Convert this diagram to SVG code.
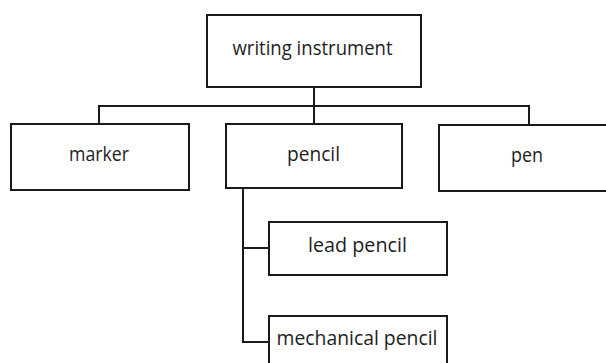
<svg xmlns="http://www.w3.org/2000/svg" width="606" height="363" viewBox="0 0 606 363">
<style>
.box{fill:#fff;stroke:#1a1a1a;stroke-width:2}
.lbl{font-family:"Open Sans","Noto Sans",sans-serif;font-size:20px;fill:#1e1e1e;text-anchor:middle}
.con{fill:none;stroke:#1a1a1a;stroke-width:2}
</style>
<rect width="606" height="363" fill="#fff"/>
<g id="connectors">
<path class="con" d="M314 87V124M99 124V106H529V125M243 188V342H269M243 248H269"/>
</g>
<g id="writing-instrument">
<rect class="box" x="207" y="15" width="214" height="72"/>
<text class="lbl" x="312.5" y="55" textLength="160" lengthAdjust="spacingAndGlyphs">writing instrument</text>
</g>
<g id="marker">
<rect class="box" x="11" y="124" width="178" height="66"/>
<text class="lbl" x="99" y="160.5" textLength="60" lengthAdjust="spacingAndGlyphs">marker</text>
</g>
<g id="pencil">
<rect class="box" x="226" y="124" width="176" height="64"/>
<text class="lbl" x="313.5" y="160.5" textLength="53" lengthAdjust="spacingAndGlyphs">pencil</text>
</g>
<g id="pen">
<rect class="box" x="439" y="125" width="178" height="66"/>
<text class="lbl" x="527" y="162" textLength="32" lengthAdjust="spacingAndGlyphs">pen</text>
</g>
<g id="lead-pencil">
<rect class="box" x="269" y="222" width="178" height="53"/>
<text class="lbl" x="357.5" y="252" textLength="99" lengthAdjust="spacingAndGlyphs">lead pencil</text>
</g>
<g id="mechanical-pencil">
<rect class="box" x="269" y="316" width="178" height="53"/>
<text class="lbl" x="357" y="345" textLength="161" lengthAdjust="spacingAndGlyphs">mechanical pencil</text>
</g>
</svg>
